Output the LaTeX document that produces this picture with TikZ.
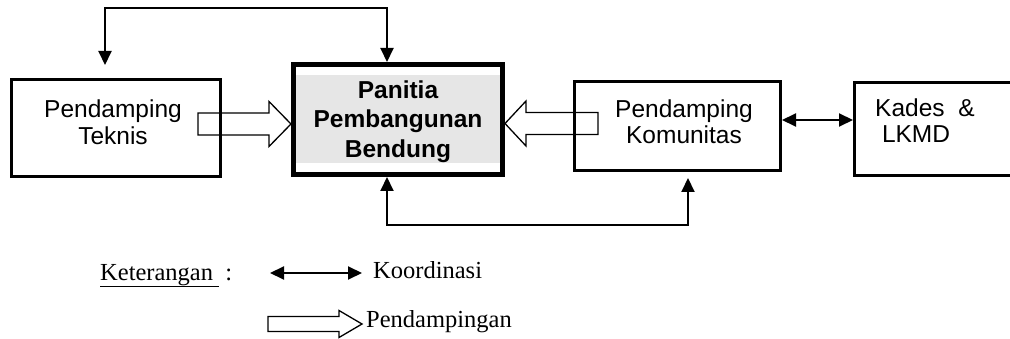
\documentclass[tikz,border=0pt]{standalone}
\usepackage{fontspec}
\setmainfont{Liberation Serif}
\setsansfont{Liberation Sans}
\usetikzlibrary{arrows.meta,calc}
\definecolor{panelgray}{HTML}{E6E6E6}
\begin{document}
\begin{tikzpicture}[x=1pt,y=-1pt,
  box/.style={draw,line width=3pt,inner sep=0pt,outer sep=0pt},
  boxtext/.style={font=\sffamily\fontsize{24.5}{26.5}\selectfont,align=center,inner sep=0pt},
  headtext/.style={font=\sffamily\bfseries\fontsize{24.5}{29.5}\selectfont,align=center,inner sep=0pt},
  conn/.style={line width=2pt,{Triangle[length=14pt,width=13pt]}-{Triangle[length=14pt,width=13pt]}},
  blockarrow/.style={draw,line width=1.3pt,line join=miter},
  legend/.style={font=\rmfamily\fontsize{24.5}{28}\selectfont,inner sep=0pt}]

\useasboundingbox (0,0) rectangle (1010,339);
\clip (0,0) rectangle (1010,339);

% boxes
\node[box,minimum width=209pt,minimum height=97pt] (teknis) at (116,128.5) {};
\node[boxtext] (teknisText) at ([xshift=-3pt,yshift=6.5pt]teknis.center) {Pendamping\\Teknis};

\node[box,line width=5pt,minimum width=209pt,minimum height=110pt] (panitia) at (398,119.5) {};
\node[fill=panelgray,inner sep=0pt,minimum width=204pt,minimum height=88pt] (panitiaFill) at (398,119) {};
\node[headtext] (panitiaText) at ([yshift=-1.75pt]panitia.center) {Panitia\\Pembangunan\\Bendung};

\node[box,minimum width=206pt,minimum height=89pt] (komunitas) at (677.5,126) {};
\node[boxtext] (komunitasText) at ([xshift=6.5pt,yshift=4.5pt]komunitas.center) {Pendamping\\Komunitas};

\node[box,minimum width=166pt,minimum height=93pt] (kades) at (937.5,129) {};
\node[boxtext,align=left,anchor=west] (kadesText) at ([xshift=20.5pt,yshift=8.25pt]kades.west) {Kades\ \ \&\\\ LKMD};

% coordination links
\draw[conn] ([xshift=-11pt,yshift=15pt]teknis.north) -- ++(0,-57) -| ([xshift=-11pt,yshift=2.5pt]panitia.north);
\draw[conn] ([xshift=-11pt,yshift=-2.5pt]panitia.south) -- ++(0,48) -| ([xshift=10.5pt,yshift=-7.5pt]komunitas.south);
\coordinate (kk) at ([xshift=1.5pt,yshift=6pt]komunitas.east);
\draw[conn] (kk) -- ($(kk -| kades.west)+(-1.5,0)$);

% assistance arrows
\draw[blockarrow] ([xshift=-2.5pt,yshift=-4.5pt]panitia.west) -- ++(-22,-22.5) -- ++(0,11.5) -- ++(-71,0) -- ++(0,22) -- ++(71,0) -- ++(0,11.5) -- cycle;
\draw[blockarrow] ([xshift=2.5pt,yshift=-4pt]panitia.east) -- ++(21,-22.5) -- ++(0,11.5) -- ++(72,0) -- ++(0,22) -- ++(-72,0) -- ++(0,11.5) -- cycle;

% legend
\node[legend,anchor=base west] (ket) at (100,280) {\underline{Keterangan\ }\ :};
\coordinate (k1) at (270,273);
\coordinate (k2) at (362,273);
\draw[conn] (k1) -- (k2);
\node[legend,anchor=base west] (koord) at (373,279) {Koordinasi};
\coordinate (p1) at (362,324);
\draw[blockarrow] (p1) -- ++(-23,-13.5) -- ++(0,6) -- ++(-71,0) -- ++(0,15) -- ++(71,0) -- ++(0,6) -- cycle;
\node[legend,anchor=base west] (pend) at (366,327) {Pendampingan};
\end{tikzpicture}
\end{document}
